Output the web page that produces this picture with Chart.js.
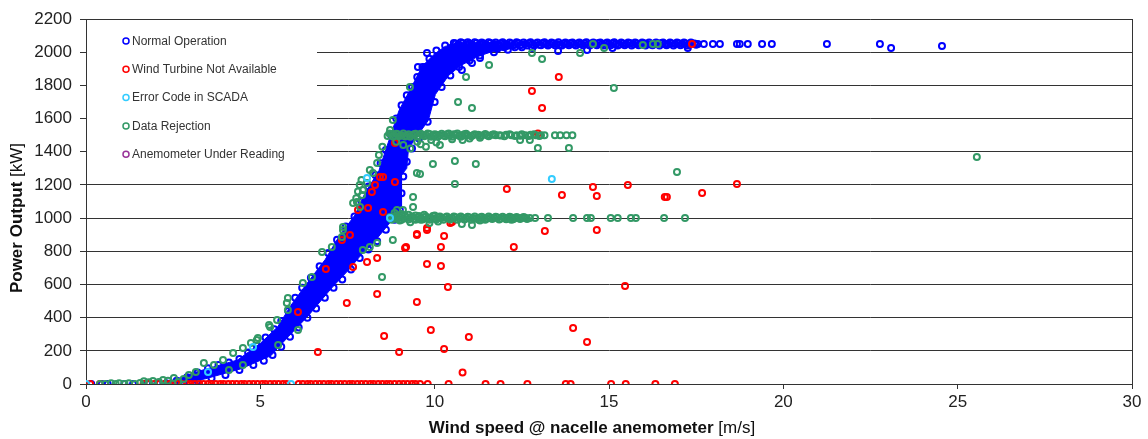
<!DOCTYPE html>
<html>
<head>
<meta charset="utf-8">
<script src="https://cdn.jsdelivr.net/npm/chart.js@4.4.1/dist/chart.umd.min.js"></script>
<style>
html,body{margin:0;padding:0;background:#fff;}
</style>
</head>
<body>
<canvas id="graf" width="1148" height="439"></canvas>
<script>
// series names (legend order)
const seriesNames = ['Normal Operation', 'Wind Turbine Not Available', 'Error Code in SCADA', 'Data Rejection', 'Anemometer Under Reading'];
const seriesColors = ['#0000FF', '#FF0000', '#33CCFF', '#339966', '#993399'];

const xTitleBold = 'Wind speed @ nacelle anemometer';
const xTitleUnit = ' [m/s]';
const yTitleBold = 'Power Output';
const yTitleUnit = ' [kW]';

// outline of the dense, fully overplotted part of "Normal Operation" [wind m/s, kW]
const normalBand = [
  [2.2,0],[3.2,75],[4.35,145],[5.0,245],[5.5,345],[5.88,475],[6.28,590],[6.86,750],[7.26,890],
  [7.72,1020],[8.0,1150],[8.4,1285],[8.58,1400],[8.98,1650],[9.35,1795],[9.64,1915],[10.0,1990],
  [10.3,2035],[10.6,2050],[11.2,2045],[12.0,2030],[12.4,2030],
  [11.6,2000],[11.25,1975],[10.75,1920],[10.4,1860],[10.02,1745],[9.82,1590],[9.25,1420],[9.2,1300],
  [9.05,1260],[9.05,1060],[8.67,960],[8.3,865],[7.9,780],[7.52,685],[7.03,575],[6.37,410],[5.8,285],
  [5.3,170],[4.45,92],[3.4,30],[2.75,5]
];

// Normal Operation - individual points
const normalOp = [
  [0.15,0],[0.45,0],[0.62,0],[1.1,0],[1.35,0],[1.75,4],[2.05,6],
  [2.3,5],[2.6,20],[2.9,40],[3.2,70],[3.5,95],[3.8,115],[4.1,130],[4.4,150],[4.65,190],[4.9,230],
  [5.15,280],[5.4,330],[5.6,380],[5.8,440],[6.0,520],[6.2,580],[6.45,640],[6.7,710],[6.95,790],
  [7.2,870],[7.45,950],[7.7,1010],[7.9,1100],[8.1,1190],[8.3,1260],[8.45,1330],[8.6,1410],[8.75,1500],
  [8.9,1600],[9.05,1680],[9.2,1740],[9.35,1790],[9.5,1850],[9.65,1910],[9.85,1960],[10.05,2010],
  [10.3,2040],[10.55,2055],
  [2.8,10],[3.2,20],[3.6,35],[4.0,55],[4.4,85],[4.8,115],[5.1,140],[5.35,175],[5.6,225],[5.85,285],
  [6.1,340],[6.35,400],[6.6,455],[6.85,520],[7.1,580],[7.35,630],[7.6,690],[7.85,760],[8.1,810],
  [8.35,860],[8.6,930],[8.85,990],[9.0,1050],[9.05,1150],[9.1,1250],[9.2,1340],[9.35,1420],[9.55,1480],
  [9.8,1580],[10.0,1700],[10.2,1790],[10.45,1860],[10.7,1910],[11.0,1950],[11.3,1980],[11.7,2000],
  [12.1,2015],[12.5,2030],
  [9.52,1911],[9.72,1911],[9.78,1995],[10.78,1893],[11.07,1935],[11.3,1965],
  [10.5,2030],[10.75,2025],[11.0,2030],[11.25,2035],[11.5,2030],[11.75,2035],[12.0,2030],
  [10.6,2052],[10.7,2045],[10.8,2055],[10.9,2048],[11.0,2052],[11.1,2040],[11.2,2055],[11.3,2048],
  [11.4,2052],[11.5,2042],[11.6,2055],[11.7,2050],[11.8,2046],[11.9,2054],[12.0,2050],[12.1,2040],
  [12.2,2053],[12.3,2048],[12.4,2055],[12.5,2045],[12.6,2050],[12.7,2054],[12.8,2048],[12.9,2052],
  [13.0,2045],[13.1,2055],[13.2,2050],[13.3,2048],[13.4,2054],[13.5,2050],[13.6,2046],[13.7,2052],
  [13.8,2050],[13.9,2055],[14.0,2048],[14.1,2052],[14.2,2050],[14.3,2054],[14.4,2047],[14.5,2052],
  [14.6,2050],[14.7,2055],[14.8,2048],[14.9,2052],[15.0,2050],[15.1,2054],[15.2,2050],[15.3,2046],
  [15.4,2052],[15.5,2050],[15.6,2055],[15.7,2048],[15.8,2052],[15.9,2050],[16.0,2054],[16.1,2050],
  [16.2,2047],[16.3,2052],[16.4,2050],[16.5,2055],[16.6,2050],[16.7,2048],[16.8,2052],[16.9,2050],
  [17.0,2054],[17.1,2050],[17.2,2052],[17.3,2048],[17.45,2052],[17.55,2050],
  [10.65,2040],[10.75,2060],[10.85,2038],[10.95,2060],[11.05,2045],[11.15,2060],[11.25,2040],[11.35,2058],
  [11.45,2045],[11.55,2060],[11.65,2040],[11.75,2058],[11.85,2042],[11.95,2060],[12.05,2045],[12.15,2058],
  [12.25,2040],[12.35,2060],[12.45,2042],[12.55,2058],[12.65,2040],[12.75,2060],[12.85,2040],[12.95,2058],
  [13.05,2042],[13.15,2060],[13.25,2040],[13.35,2058],[13.45,2042],[13.55,2060],[13.65,2040],[13.75,2058],
  [13.85,2042],[13.95,2058],[14.05,2040],[14.15,2058],[14.25,2042],[14.35,2060],[14.45,2040],[14.55,2058],
  [14.65,2042],[14.75,2058],[14.85,2040],[14.95,2058],[15.05,2042],[15.15,2060],[15.25,2040],[15.35,2058],
  [15.45,2042],[15.55,2058],[15.65,2040],[15.75,2058],[15.85,2042],[15.95,2058],[16.05,2040],[16.15,2058],
  [16.25,2042],[16.35,2058],[16.45,2040],[16.55,2058],[16.65,2042],[16.75,2058],[16.85,2040],[16.95,2058],
  [17.05,2042],[17.15,2058],[17.25,2040],[17.35,2058],[17.5,2045],
  [11.8,2020],[12.3,2030],[12.8,2025],[13.54,2007],[14.37,2013],[15.1,2025],[17.26,2025],
  [17.72,2050],[17.98,2050],[18.18,2050],[18.67,2050],[18.75,2050],[18.98,2050],[19.39,2050],
  [19.67,2050],[21.25,2050],[22.77,2050],[23.09,2025],[24.55,2037]
];

// Wind Turbine Not Available
const notAvailable = [
  [0.12,0],[0.4,0],[1.65,0],[1.8,0],[1.95,0],[2.1,0],[2.25,0],[2.4,0],[2.5,0],[2.62,0],[2.75,0],
  [2.9,0],[3.0,0],[3.12,0],[3.25,0],[3.37,0],[3.5,0],[3.6,0],[3.72,0],[3.85,0],[3.95,0],[4.08,0],
  [4.2,0],[4.32,0],[4.45,0],[4.55,0],[4.68,0],[4.8,0],[4.92,0],[5.05,0],[5.15,0],[5.28,0],[5.4,0],
  [5.52,0],[5.65,0],[5.75,0],[6.1,0],[6.22,0],[6.35,0],[6.45,0],[6.58,0],[6.7,0],[6.82,0],[6.95,0],
  [7.05,0],[7.18,0],[7.3,0],[7.42,0],[7.55,0],[7.65,0],[7.78,0],[7.9,0],[8.02,0],[8.15,0],[8.25,0],
  [8.38,0],[8.5,0],[8.62,0],[8.72,0],[8.85,0],[8.98,0],[9.1,0],[9.22,0],[9.35,0],[9.45,0],[9.58,0],
  [9.8,0],[10.4,0],[11.46,0],[11.89,0],[12.66,0],[13.76,0],[13.9,0],[15.06,0],[15.48,0],[16.33,0],
  [16.89,0],
  [6.08,434],[6.65,193],[7.48,488],[6.88,693],[7.66,705],[7.57,898],[7.34,868],[8.06,735],[8.35,759],
  [8.35,542],[8.55,289],[8.98,193],[9.49,494],[9.15,820],[9.49,898],[9.78,928],[9.78,723],[9.49,904],
  [9.18,826],[10.5,976],[10.27,892],[10.18,826],[10.18,711],[10.38,585],[9.89,326],[10.98,283],
  [10.27,211],[10.8,70],[13.97,338],[14.37,253],[15.46,591],[13.16,922],[14.65,928],[12.27,826],
  [12.07,1175],[13.65,1139],[14.54,1187],[14.65,1133],[15.54,1199],[16.6,1127],[16.66,1127],
  [17.67,1151],[18.67,1205],[13.56,1851],[12.79,1766],[13.08,1664],[17.38,2050],[12.96,1510],
  [8.09,1061],[7.8,1049],[8.52,1037],[8.2,1157],[8.29,1199],[8.86,1217],[8.52,1248],[8.86,1453],
  [8.43,1248],[9.78,940],[10.45,970]
];

// Error Code in SCADA
const errorCode = [
  [0,0],[5.88,0],[3.5,72],[4.79,223],[8.06,1242],[8.72,1000],[13.36,1236]
];

// Data Rejection
const dataRejection = [
  [0.4,0],[0.55,0],[0.72,4],[0.85,0],[0.95,4],[1.1,0],[1.23,5],[1.4,0],[1.55,6],[1.66,16],[1.8,10],
  [1.92,18],[2.09,12],[2.21,24],[2.35,20],[2.52,36],[2.64,12],[2.8,30],
  [2.95,54],[3.15,72],[3.38,127],[3.67,115],[3.93,145],[4.1,84],[4.22,187],[4.5,217],[4.5,115],
  [4.73,247],[4.9,265],[4.93,277],[5.25,356],[5.28,344],[5.48,386],[5.51,235],[5.76,488],[5.79,518],
  [5.79,446],[6.08,326],[6.22,609],[6.48,645],[6.77,796],[7.05,826],[7.37,928],[7.34,886],[7.37,946],
  [7.66,1091],[7.75,1120],[7.77,1097],[7.8,1160],[7.85,1200],[7.86,1067],[7.9,1230],[7.92,1139],
  [7.94,1169],[8.06,1212],[7.94,808],[8.14,826],[8.35,850],[8.49,645],[8.8,868],[8.72,1007],
  [8.92,1049],[9.09,1049],[8.14,1290],[8.23,1272],[8.35,1332],[8.4,1380],[8.5,1430],[8.72,1531],
  [8.8,1591],[9.29,1790],[9.38,1127],[9.38,1067],[9.49,1272],[9.58,1266],
  [8.65,1495],[8.75,1505],[8.85,1498],[8.95,1505],[9.05,1500],[9.15,1492],[9.25,1505],[9.35,1500],
  [9.45,1508],[9.55,1495],[9.65,1502],[9.75,1500],[9.85,1507],[9.95,1496],[10.05,1503],[10.15,1500],
  [10.25,1498],[10.35,1505],[10.45,1500],[10.6,1502],[10.7,1497],[10.85,1505],[10.95,1500],[11.1,1500],
  [11.25,1503],[11.35,1498],[11.5,1500],[11.65,1502],[11.75,1500],[11.9,1498],[12.05,1503],[12.2,1500],
  [12.35,1500],[12.45,1497],[12.6,1500],[12.75,1502],[12.9,1500],[13.05,1500],[13.45,1500],[13.6,1500],
  [13.78,1500],[13.95,1500],
  [8.7,1510],[8.8,1492],[8.9,1508],[9.0,1495],[9.1,1510],[9.2,1497],[9.3,1490],[9.4,1505],[9.5,1490],
  [9.6,1508],[9.7,1493],[9.8,1510],[9.9,1490],[10.0,1505],[10.1,1492],[10.2,1508],[10.3,1493],
  [10.4,1510],[10.5,1490],[10.55,1505],[10.65,1510],[10.75,1490],[10.8,1500],[10.9,1508],[11.05,1493],
  [11.15,1505],[11.3,1495],[11.45,1507],[11.55,1493],[11.7,1506],[11.85,1500],[12.0,1494],[12.15,1506],
  [12.3,1495],[12.5,1505],[12.7,1495],[12.85,1505],[13.0,1495],[13.15,1500],
  [8.9,1460],[9.1,1440],[9.3,1420],[9.5,1460],[9.6,1445],[9.75,1430],[9.9,1470],[10.05,1455],
  [10.15,1440],[10.5,1475],[10.8,1470],[11.0,1480],[11.3,1485],[12.45,1470],[12.73,1470],[12.96,1423],
  [13.85,1423],
  [8.72,1000],[8.82,1005],[8.92,995],[9.0,1003],[9.1,998],[9.2,1005],[9.3,1000],[9.4,995],[9.5,1003],
  [9.6,1000],[9.7,1005],[9.8,998],[9.9,1002],[10.0,996],[10.1,1003],[10.2,1000],[10.3,1004],[10.4,998],
  [10.5,1001],[10.6,1005],[10.7,999],[10.8,1002],[10.9,997],[11.0,1003],[11.1,1000],[11.2,998],
  [11.3,1004],[11.4,1000],[11.5,997],[11.6,1002],[11.7,1000],[11.8,1003],[11.9,998],[12.0,1001],
  [12.1,1000],[12.2,1003],[12.3,999],[12.4,1001],[12.5,1000],[12.6,1002],[12.73,1000],
  [8.77,990],[8.87,1012],[8.97,1010],[9.05,990],[9.15,1012],[9.25,992],[9.35,1010],[9.45,990],
  [9.55,1012],[9.65,992],[9.75,1010],[9.85,990],[9.95,1012],[10.05,992],[10.15,1010],[10.25,990],
  [10.35,1010],[10.45,992],[10.55,1010],[10.65,990],[10.75,1010],[10.85,992],[10.95,1008],[11.05,990],
  [11.15,1010],[11.25,992],[11.35,1008],[11.45,990],[11.55,1010],[11.65,995],[11.75,1008],[11.85,992],
  [11.95,1008],[12.05,993],[12.15,1008],[12.25,993],[12.35,1007],[12.45,994],[12.55,1006],[12.65,995],
  [12.88,1000],[13.25,1000],[13.97,1000],[14.37,1000],[14.48,1000],[15.05,1000],[15.25,1000],
  [15.63,1000],[15.77,1000],[16.58,1000],[17.18,1000],
  [8.85,1030],[9.05,1025],[9.25,1020],[9.45,1015],[9.7,1020],[10.0,1015],
  [9.0,985],[9.3,975],[9.6,990],[9.85,970],[10.1,980],[10.78,964],[11.07,958],[11.3,985],[12.2,990],
  [11.56,1923],[10.9,1851],[10.67,1700],[11.07,1664],[12.79,1995],[13.08,1959],[14.17,1995],
  [15.14,1784],[14.54,2050],[14.86,2025],[15.97,2043],[16.26,2050],[16.4,2050],
  [9.95,1326],[10.58,1344],[11.18,1326],[10.58,1205],[16.95,1278],[25.55,1368]
];

// Anemometer Under Reading (no points visible)
const anemometerUnder = [];

const toXY = arr => arr.map(p => ({x: p[0], y: p[1]}));
const fontFam = '"Liberation Sans", Arial, sans-serif';

function pts(data, color, order) {
    return {
        data: toXY(data),
        borderColor: color,
        pointBorderColor: color,
        backgroundColor: 'rgba(0,0,0,0)',
        pointBackgroundColor: 'rgba(0,0,0,0)',
        pointRadius: 3,
        pointBorderWidth: 2,
        showLine: false,
        order: order
    };
}

const extras = {
    id: 'extras',
    beforeDatasetsDraw(chart) {
        const ctx = chart.ctx;
        ctx.save();
        ctx.fillStyle = '#fff';
        ctx.fillRect(chart.chartArea.left + 1, 26, 230, 143);
        ctx.restore();
    },
    afterDraw(chart) {
        const ctx = chart.ctx;
        ctx.save();
        // legend
        ctx.textBaseline = 'middle';
        ctx.font = '12px ' + fontFam;
        seriesNames.forEach((name, i) => {
            const y = 41 + i * 28.3;
            ctx.beginPath();
            ctx.arc(126, y, 3, 0, Math.PI * 2);
            ctx.lineWidth = 1.5;
            ctx.strokeStyle = seriesColors[i];
            ctx.stroke();
            ctx.fillStyle = '#333';
            ctx.fillText(name, 132, y + 0.5);
        });
        // x title
        ctx.fillStyle = '#111';
        ctx.font = 'bold 17px ' + fontFam;
        const wb = ctx.measureText(xTitleBold).width;
        ctx.font = '17px ' + fontFam;
        const wu = ctx.measureText(xTitleUnit).width;
        let x0 = 592 - (wb + wu) / 2;
        ctx.font = 'bold 17px ' + fontFam;
        ctx.fillText(xTitleBold, x0, 428);
        ctx.font = '17px ' + fontFam;
        ctx.fillText(xTitleUnit, x0 + wb, 428);
        // y title
        ctx.translate(17, 218);
        ctx.rotate(-Math.PI / 2);
        ctx.font = 'bold 17px ' + fontFam;
        const yb = ctx.measureText(yTitleBold).width;
        ctx.font = '17px ' + fontFam;
        const yu = ctx.measureText(yTitleUnit).width;
        const y0 = -(yb + yu) / 2;
        ctx.font = 'bold 17px ' + fontFam;
        ctx.fillText(yTitleBold, y0, 0);
        ctx.font = '17px ' + fontFam;
        ctx.fillText(yTitleUnit, y0 + yb, 0);
        ctx.restore();
    }
};

document.addEventListener("DOMContentLoaded", () => {
    let cont = document.getElementById('graf').getContext('2d');
    let graf = new Chart(cont, {
        type: 'scatter',
        data: {
            datasets: [
                {
                    data: toXY(normalBand),
                    showLine: true,
                    fill: 'shape',
                    borderColor: '#0000FF',
                    backgroundColor: '#0000FF',
                    borderWidth: 1,
                    pointRadius: 0,
                    tension: 0,
                    order: 10
                },
                pts(normalOp, seriesColors[0], 9),
                pts(notAvailable, seriesColors[1], 3),
                pts(errorCode, seriesColors[2], 1),
                pts(dataRejection, seriesColors[3], 2),
                pts(anemometerUnder, seriesColors[4], 0)
            ]
        },
        options: {
            responsive: false,
            animation: false,
            events: [],
            layout: {padding: {left: 0, right: 16, top: 19, bottom: 0}},
            plugins: {legend: {display: false}, tooltip: {enabled: false}},
            scales: {
                x: {
                    type: 'linear',
                    min: 0, max: 30,
                    ticks: {stepSize: 5, color: '#222', padding: 3, font: {size: 17, family: fontFam}},
                    grid: {
                        color: c => (c.tick && c.tick.value === 30) ? '#333' : 'rgba(0,0,0,0)',
                        tickColor: '#333',
                        tickLength: 5,
                        lineWidth: 1
                    },
                    border: {display: true, color: '#333', width: 1},
                    afterFit: s => { s.height = 55; }
                },
                y: {
                    min: 0, max: 2200,
                    ticks: {stepSize: 200, color: '#222', padding: 8, font: {size: 17, family: fontFam},
                            callback: v => String(v)},
                    grid: {color: '#333', tickColor: '#333', tickLength: 6, lineWidth: 1},
                    border: {display: true, color: '#333', width: 1},
                    afterFit: s => { s.width = 86; }
                }
            }
        },
        plugins: [extras]
    });
});
</script>
</body>
</html>
